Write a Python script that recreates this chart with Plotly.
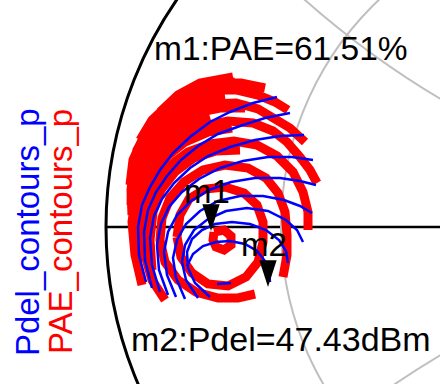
import plotly.graph_objects as go

# Smith chart grid values (normalized impedance)
r_circle = 0.28
x_arc = 0.44

# PAE load-pull contours, load reflection coefficient (re, im), innermost first
pae_c0 = [(-0.73, -0.0125), (-0.705, -0.0075), (-0.6875, -0.0225), (-0.6875, -0.045),
          (-0.705, -0.0575), (-0.725, -0.05), (-0.7325, -0.0325), (-0.73, -0.0125)]
pae_c1 = [(-0.8225, -0.025), (-0.815, 0.03), (-0.7925, 0.07), (-0.7525, 0.095), (-0.7025, 0.1),
          (-0.655, 0.085), (-0.6225, 0.055), (-0.6075, 0.0125), (-0.6075, -0.0375), (-0.62, -0.0875),
          (-0.65, -0.125), (-0.695, -0.1475), (-0.745, -0.1425), (-0.785, -0.115), (-0.8125, -0.075),
          (-0.8225, -0.025)]
pae_c2 = [(-0.6275, -0.1675), (-0.67, -0.1775), (-0.72, -0.1775), (-0.775, -0.1625), (-0.82, -0.1325),
          (-0.8525, -0.0875), (-0.865, -0.0325), (-0.86, 0.0225), (-0.84, 0.0725), (-0.805, 0.1125),
          (-0.7575, 0.1425), (-0.7025, 0.155), (-0.645, 0.1475), (-0.6, 0.1225), (-0.57, 0.085),
          (-0.5525, 0.0375), (-0.5475, -0.02), (-0.5475, -0.07), (-0.5575, -0.125)]
pae_c3 = [(-0.885, -0.1075), (-0.89, -0.0325), (-0.8825, 0.0375), (-0.8625, 0.0925), (-0.8275, 0.1375),
          (-0.78, 0.1725), (-0.725, 0.19), (-0.665, 0.1925)]
pae_c4 = [(-0.8525, -0.1825), (-0.885, -0.1325), (-0.9025, -0.07), (-0.9075, -0.0075), (-0.9, 0.055),
          (-0.8775, 0.1075), (-0.8425, 0.1525), (-0.795, 0.1875), (-0.74, 0.2075), (-0.68, 0.215),
          (-0.6225, 0.205), (-0.5725, 0.1775), (-0.5325, 0.1375), (-0.5075, 0.0875), (-0.495, 0.0375),
          (-0.495, -0.0075)]
pae_c5 = [(-0.92, -0.0875), (-0.9225, -0.0075), (-0.915, 0.0625), (-0.89, 0.1225), (-0.8525, 0.1725),
          (-0.8025, 0.2125), (-0.745, 0.2375), (-0.685, 0.2475)]
pae_c6 = [(-0.91, -0.145), (-0.9275, -0.07), (-0.935, 0.0125), (-0.925, 0.08), (-0.9025, 0.1375),
          (-0.865, 0.1875), (-0.815, 0.2275), (-0.7575, 0.2525), (-0.695, 0.265), (-0.6325, 0.26),
          (-0.5825, 0.24), (-0.5475, 0.2125), (-0.515, 0.175), (-0.49, 0.1425), (-0.4725, 0.11)]
pae_c7 = [(-0.93, 0.0675), (-0.92, 0.1275), (-0.89, 0.18), (-0.85, 0.225), (-0.7975, 0.2575),
          (-0.74, 0.275)]
pae_c8 = [(-0.9375, 0.055), (-0.935, 0.1125), (-0.915, 0.1675), (-0.88, 0.2175), (-0.835, 0.2575),
          (-0.7775, 0.285), (-0.715, 0.2975), (-0.6525, 0.2975)]
pae_c9 = [(-0.935, 0.03), (-0.9375, 0.0925), (-0.93, 0.155), (-0.9, 0.21), (-0.8575, 0.255),
          (-0.8025, 0.29), (-0.74, 0.3075), (-0.675, 0.31), (-0.62, 0.295), (-0.5775, 0.2725),
          (-0.54, 0.2475), (-0.5025, 0.2125)]
pae_c10 = [(-0.94, 0.105), (-0.9325, 0.1675), (-0.91, 0.2175), (-0.875, 0.2625), (-0.825, 0.2975),
           (-0.765, 0.32), (-0.7025, 0.3275)]
pae_c11 = [(-0.9325, 0.13), (-0.9225, 0.1925), (-0.89, 0.2475), (-0.8475, 0.2925), (-0.795, 0.325),
           (-0.735, 0.3425), (-0.6725, 0.3425), (-0.62, 0.33), (-0.5775, 0.3125), (-0.545, 0.2925)]
pae_c12 = [(-0.925, 0.18), (-0.9, 0.235), (-0.86, 0.2775), (-0.81, 0.3125), (-0.75, 0.335), (-0.69, 0.3475)]
pae_c13 = [(-0.915, 0.2175), (-0.885, 0.2675), (-0.84, 0.31), (-0.785, 0.3425), (-0.725, 0.36),
           (-0.6625, 0.36), (-0.6025, 0.3475)]
pae_c14 = [(-0.89, 0.25), (-0.85, 0.2975), (-0.795, 0.335), (-0.735, 0.355), (-0.6775, 0.3625)]
pae_c15 = [(-0.865, 0.2875), (-0.82, 0.33), (-0.765, 0.36), (-0.715, 0.3725), (-0.6825, 0.375)]

pae_contours = [pae_c0, pae_c1, pae_c2, pae_c3, pae_c4, pae_c5, pae_c6, pae_c7,
                pae_c8, pae_c9, pae_c10, pae_c11, pae_c12, pae_c13, pae_c14, pae_c15]

# Delivered power contours, innermost first
pdel_c0 = [(-0.7225, -0.1425), (-0.6875, -0.14)]
pdel_c1 = [(-0.7975, -0.0975), (-0.7825, -0.0675), (-0.7575, -0.0475), (-0.725, -0.0375), (-0.69, -0.035),
           (-0.6525, -0.0425), (-0.6225, -0.06), (-0.6025, -0.085), (-0.5925, -0.1125), (-0.59, -0.1375)]
pdel_c2 = [(-0.74, -0.175), (-0.7775, -0.14), (-0.795, -0.1025), (-0.7975, -0.0625), (-0.785, -0.03),
           (-0.76, -0.0075), (-0.7275, 0.0075), (-0.685, 0.0125), (-0.64, 0.0075), (-0.6, -0.0075),
           (-0.5675, -0.0325), (-0.55, -0.06), (-0.545, -0.09)]
pdel_c3 = [(-0.77, -0.1775), (-0.8, -0.1325), (-0.81, -0.0875), (-0.8025, -0.045), (-0.78, -0.0075),
           (-0.745, 0.02), (-0.7, 0.04), (-0.6475, 0.0475), (-0.595, 0.04), (-0.55, 0.0175),
           (-0.5225, -0.0075), (-0.5075, -0.0375)]
pdel_c4 = [(-0.8025, -0.18), (-0.825, -0.1275), (-0.8325, -0.0775), (-0.8225, -0.0325), (-0.8, 0.0075),
           (-0.765, 0.04), (-0.72, 0.065), (-0.665, 0.0775), (-0.6075, 0.0775), (-0.555, 0.0675),
           (-0.515, 0.0525), (-0.485, 0.035)]
pdel_c5 = [(-0.825, -0.175), (-0.8475, -0.12), (-0.855, -0.0625), (-0.845, -0.0125), (-0.8225, 0.03),
           (-0.7875, 0.065), (-0.7425, 0.0925), (-0.6875, 0.1125), (-0.6275, 0.1225), (-0.565, 0.1225),
           (-0.515, 0.115), (-0.475, 0.105)]
pdel_c6 = [(-0.845, -0.17), (-0.8675, -0.1075), (-0.8725, -0.045), (-0.8625, 0.0075), (-0.8425, 0.05),
           (-0.81, 0.0875), (-0.7675, 0.12), (-0.715, 0.1475), (-0.6575, 0.165), (-0.595, 0.175),
           (-0.535, 0.175), (-0.4825, 0.1675)]
pdel_c7 = [(-0.865, -0.1625), (-0.885, -0.095), (-0.89, -0.0275), (-0.88, 0.0275), (-0.86, 0.07),
           (-0.83, 0.11), (-0.79, 0.1475), (-0.745, 0.1775), (-0.69, 0.2), (-0.6275, 0.2175),
           (-0.565, 0.2275), (-0.505, 0.23)]
pdel_c8 = [(-0.885, -0.1525), (-0.9025, -0.0825), (-0.905, -0.0125), (-0.895, 0.0425), (-0.875, 0.0875),
           (-0.8475, 0.1275), (-0.8125, 0.1675), (-0.77, 0.2025), (-0.72, 0.2325), (-0.665, 0.2525),
           (-0.6025, 0.2725), (-0.54, 0.285)]
pdel_c9 = [(-0.9, -0.1375), (-0.9175, -0.07), (-0.92, 0.0), (-0.91, 0.055), (-0.89, 0.1),
           (-0.865, 0.1425), (-0.8325, 0.185), (-0.79, 0.225), (-0.74, 0.2625), (-0.69, 0.2875),
           (-0.6325, 0.31), (-0.5725, 0.325)]

pdel_contours = [pdel_c0, pdel_c1, pdel_c2, pdel_c3, pdel_c4,
                 pdel_c5, pdel_c6, pdel_c7, pdel_c8, pdel_c9]

# Markers: m1 at maximum PAE, m2 at maximum delivered power
m1_gamma = (-0.7375, -0.01)
m1_pae = 61.51
m2_gamma = (-0.595, -0.15)
m2_pdel = 47.43

FONT = "Liberation Sans, Arial, sans-serif"
RED = "#ff0000"
BLUE = "#0000ff"
GRID = "#bfbfbf"

fig = go.Figure()

for c in pae_contours:
    fig.add_trace(go.Scatter(x=[p[0] for p in c], y=[p[1] for p in c], mode="lines",
                             line=dict(color=RED, width=9), hoverinfo="skip"))
for c in pdel_contours:
    fig.add_trace(go.Scatter(x=[p[0] for p in c], y=[p[1] for p in c], mode="lines",
                             line=dict(color=BLUE, width=2.5), hoverinfo="skip"))

# Down-pointing marker heads with the tip on the marker point
fig.add_trace(go.Scatter(x=[m1_gamma[0], m2_gamma[0]], y=[m1_gamma[1], m2_gamma[1]],
                         mode="markers", hoverinfo="skip",
                         marker=dict(symbol="arrow", angle=180, size=28, color="black",
                                     line=dict(width=0))))

# Smith chart outline, real axis, one resistance circle and two reactance arcs
rc = r_circle / (1 + r_circle)
rr = 1 / (1 + r_circle)
k = 1 / x_arc
shapes = [
    dict(type="circle", xref="x", yref="y", x0=-1, y0=-1, x1=1, y1=1,
         line=dict(color="black", width=3), layer="below"),
    dict(type="line", xref="x", yref="y", x0=-1, y0=0, x1=1, y1=0,
         line=dict(color="black", width=2.5), layer="below"),
    dict(type="circle", xref="x", yref="y", x0=rc - rr, y0=-rr, x1=rc + rr, y1=rr,
         line=dict(color=GRID, width=2), layer="below"),
    dict(type="circle", xref="x", yref="y", x0=1 - k, y0=0, x1=1 + k, y1=2 * k,
         line=dict(color=GRID, width=2), layer="below"),
    dict(type="circle", xref="x", yref="y", x0=1 - k, y0=-2 * k, x1=1 + k, y1=0,
         line=dict(color=GRID, width=2), layer="below"),
]

annotations = [
    dict(x=m1_gamma[0], y=m1_gamma[1], xref="x", yref="y", text="m1", showarrow=False,
         xshift=-4, yshift=40, font=dict(family=FONT, size=33, color="black")),
    dict(x=m2_gamma[0], y=m2_gamma[1], xref="x", yref="y", text="m2", showarrow=False,
         xshift=-4, yshift=43, font=dict(family=FONT, size=33, color="black")),
    dict(x=0.346, y=0.875, xref="paper", yref="paper", xanchor="left", yanchor="middle",
         text=f"m1:PAE={m1_pae:.2f}%", showarrow=False,
         font=dict(family=FONT, size=33.5, color="black")),
    dict(x=0.293, y=0.117, xref="paper", yref="paper", xanchor="left", yanchor="middle",
         text=f"m2:Pdel={m2_pdel:.2f}dBm", showarrow=False,
         font=dict(family=FONT, size=34, color="black")),
    dict(x=0.064, y=0.396, xref="paper", yref="paper", xanchor="center", yanchor="middle",
         text="Pdel_contours_p", textangle=-90, showarrow=False,
         font=dict(family=FONT, size=33, color=BLUE)),
    dict(x=0.136, y=0.398, xref="paper", yref="paper", xanchor="center", yanchor="middle",
         text="PAE_contours_p", textangle=-90, showarrow=False,
         font=dict(family=FONT, size=33, color=RED)),
]

fig.update_layout(
    width=440, height=384,
    margin=dict(l=0, r=0, t=0, b=0),
    paper_bgcolor="white", plot_bgcolor="white",
    showlegend=False,
    xaxis=dict(range=[-1.265, -0.165], visible=False, fixedrange=True),
    yaxis=dict(range=[-0.3925, 0.5675], visible=False, fixedrange=True),
    shapes=shapes,
    annotations=annotations,
)

fig.write_html("out.html")
